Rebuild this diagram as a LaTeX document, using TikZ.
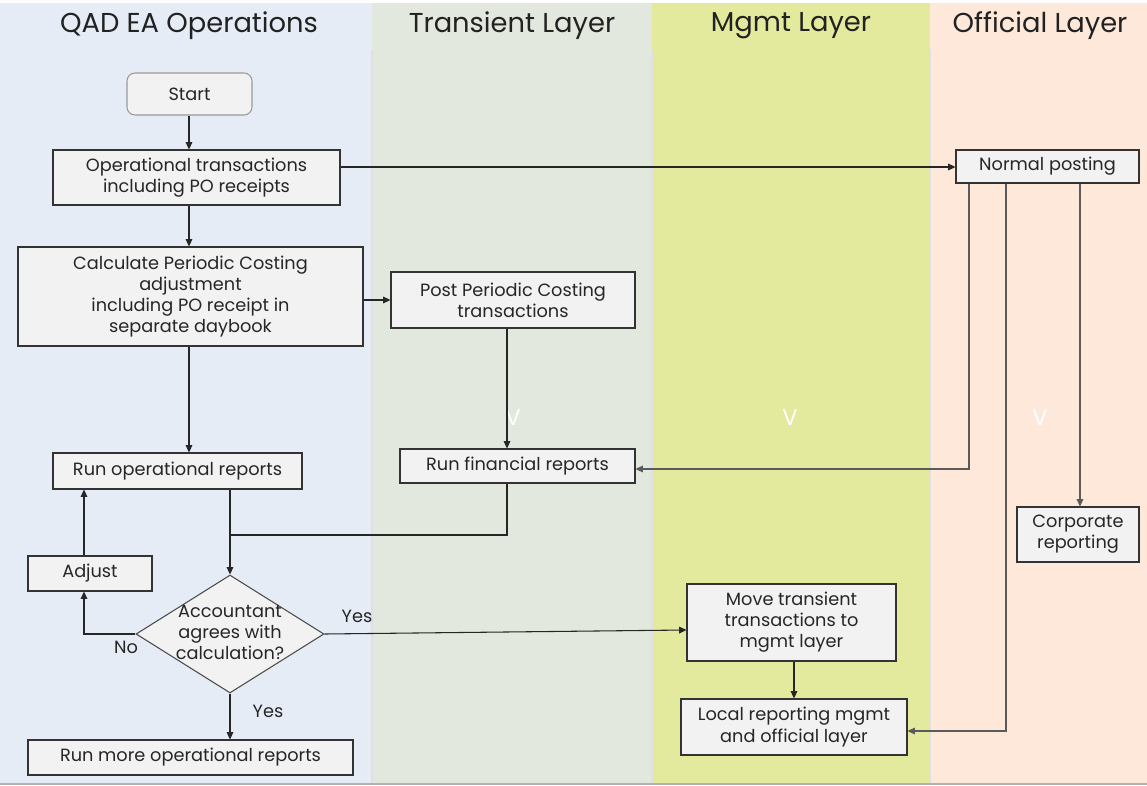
\documentclass[tikz,border=0pt]{standalone}
\usepackage{fontspec}
\setmainfont{Poppins}
\usetikzlibrary{shapes.geometric,arrows.meta}
\definecolor{laneA}{HTML}{E6ECF6}
\definecolor{laneB}{HTML}{E3E8DE}
\definecolor{laneC}{HTML}{E4EA9D}
\definecolor{laneD}{HTML}{FDE8DA}
\definecolor{boxfill}{HTML}{F2F2F2}
\definecolor{graylink}{HTML}{5A5A5A}
\definecolor{headtxt}{HTML}{222222}
\begin{document}
\begin{tikzpicture}[x=0.75pt,y=-0.75pt,
  bodyfont/.style={font=\fontsize{13.3}{15.8}\selectfont},
  box/.style={draw=black!80, fill=boxfill, line width=0.8pt, inner sep=0pt, align=center, bodyfont, text=black!85},
  sz/.style 2 args={minimum width=#1*0.75pt, minimum height=#2*0.75pt},
  arr/.style={draw=black!85, line width=0.8pt, -{Triangle[length=5.5pt,width=5pt]}},
  garr/.style={draw=graylink, line width=0.8pt, -{Triangle[length=5.5pt,width=5pt]}},
  ln/.style={draw=black!85, line width=0.8pt},
  head/.style={font=\fontsize{20.5}{24}\selectfont, text=headtxt},
  lbl/.style={bodyfont, text=black!85},
  vmark/.style={font=\fontsize{17}{19}\selectfont, text=white}]
\useasboundingbox (0,0) rectangle (1147,786);
% lanes
\fill[white] (0,0) rectangle (1147,786);
\fill[laneA] (0,3) rectangle (372,783);
\fill[laneB] (372,3) rectangle (652,783);
\fill[laneC] (652,3) rectangle (930,783);
\fill[laneD] (930,3) rectangle (1147,783);
\draw[black!12, line width=0.8pt] (372,50) -- (372,783) (652,50) -- (652,783) (930,50) -- (930,783);
\draw[black!30, line width=1.5pt] (0,784) -- (1147,784);
% headers
\node[head] (hA) at (189,26) {QAD EA Operations};
\node[head] (hB) at (512,26) {Transient Layer};
\node[head] (hC) at (791,26) {Mgmt Layer};
\node[head] (hD) at (1040,26) {Official Layer};
% nodes
\node[box, sz={125}{42}, rounded corners=6pt, draw=black!40] (start) at (189.5,94) {Start};
\node[box, sz={287}{55}] (op) at (196.5,177.5) {Operational transactions\\including PO receipts};
\node[box, sz={345}{99}] (calc) at (190.5,296.5) {Calculate Periodic Costing\\adjustment\\including PO receipt in\\separate daybook};
\node[box, sz={244}{56}] (post) at (513,300) {Post Periodic Costing\\transactions};
\node[box, sz={249}{36}] (runop) at (177.5,471) {Run operational reports};
\node[box, sz={235}{34}] (runfin) at (517.5,466) {Run financial reports};
\node[box, sz={124}{35}] (adj) at (90,573.5) {Adjust};
\node[draw=black!70, fill=boxfill, line width=0.8pt, diamond, inner sep=0pt, sz={188}{118}] (dec) at (230,634) {};
\node[lbl, align=center] (dect) at (230,632) {Accountant\\agrees with\\calculation?};
\node[box, sz={325}{35}] (more) at (190.5,757.5) {Run more operational reports};
\node[box, sz={209}{77}] (move) at (791.5,622.5) {Move transient\\transactions to\\mgmt layer};
\node[box, sz={226}{56}] (local) at (794,727) {Local reporting mgmt\\and official layer};
\node[box, sz={183}{33}] (norm) at (1047.5,166.5) {Normal posting};
\node[box, sz={122}{55}] (corp) at (1078,534.5) {Corporate\\reporting};
% labels
\node[lbl] (yes1) at (357,616) {Yes};
\node[lbl] (no1) at (126,647) {No};
\node[lbl] (yes2) at (268,711) {Yes};
\node[vmark] (v1) at (513,418) {V};
\node[vmark] (v2) at (790,418) {V};
\node[vmark] (v3) at (1040,418) {V};
% helper coordinates
\coordinate (xa) at (189,0);
\coordinate (xb) at (507,0);
\coordinate (xc) at (84,0);
\coordinate (xd) at (969,0);
\coordinate (xe) at (1006,0);
\coordinate (xf) at (1080,0);
\coordinate (j) at (230,535);
\coordinate (ya) at (0,167);
\coordinate (yb) at (0,630);
\coordinate (yc) at (0,469);
\coordinate (yd) at (0,731);
% connectors
\draw[arr] (start.south -| xa) -- (op.north -| xa);
\draw[arr] (op.east |- ya) -- (norm.west |- ya);
\draw[arr] (op.south -| xa) -- (calc.north -| xa);
\draw[arr] (calc.east |- post.west) -- (post.west);
\draw[arr] (calc.south -| xa) -- (runop.north -| xa);
\draw[arr] (post.south -| xb) -- (runfin.north -| xb);
\draw[arr] (runop.south -| dec.north) -- (dec.north);
\draw[ln] (runfin.south -| xb) |- (j);
\draw[arr] (dec.west) -| (adj.south -| xc);
\draw[arr] (adj.north -| xc) -- (runop.south -| xc);
\draw[arr] (dec.east) -- (move.west |- yb);
\draw[arr] (dec.south) -- (more.north -| dec.south);
\draw[arr] (move.south -| local) -- (local.north);
\draw[garr] (norm.south -| xd) |- (runfin.east |- yc);
\draw[garr] (norm.south -| xe) |- (local.east |- yd);
\draw[garr] (norm.south -| xf) -- (corp.north -| xf);
\end{tikzpicture}
\end{document}
